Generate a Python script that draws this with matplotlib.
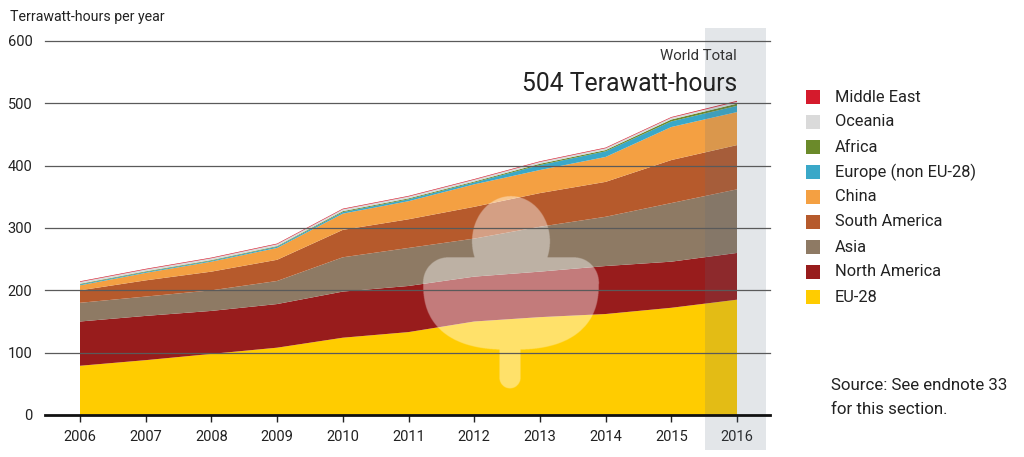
import numpy as np
import matplotlib
matplotlib.use("Agg")
from matplotlib import pyplot as plt
from matplotlib.patches import Rectangle

# Stacked area: electricity per region, 2006-2016
years = [2006, 2007, 2008, 2009, 2010, 2011, 2012, 2013, 2014, 2015, 2016]

eu28 = [79, 88, 98, 108, 124, 133, 150, 157, 162, 172, 185]
northAmerica = [71, 71, 69, 70, 74, 74, 72, 73, 77, 74, 75]
asia = [30, 31, 33, 37, 55, 61, 61, 72, 79, 94, 102]
southAmerica = [20, 26, 30, 34, 44, 46, 51, 54, 56, 69, 71]
china = [8, 12, 16, 19, 26, 29, 36, 37, 40, 53, 53]
europeNonEu = [1.5, 1.5, 1.5, 2, 2.5, 3, 3, 8, 9, 9, 10]
africa = [1, 1, 1, 1, 1.5, 1.5, 1.5, 2, 2, 3, 3.5]
oceania = [3, 3, 3, 3, 3, 3, 3, 3, 3, 3, 3]
middleEast = [1, 1, 1, 1, 1, 1, 1, 1, 1, 1, 1.5]

seriesNames = ["EU-28", "North America", "Asia", "South America", "China",
               "Europe (non EU-28)", "Africa", "Oceania", "Middle East"]
seriesColors = ["#ffcc00", "#981c1c", "#8e7a64", "#b65a2c", "#f4a042",
                "#3aa8c8", "#6b8a2a", "#dadada", "#d51a2c"]

yTicks = [0, 100, 200, 300, 400, 500, 600]
totalLabel = "504 Terawatt-hours"

FONT = "Roboto"
plt.rcParams["font.family"] = [FONT, "DejaVu Sans"]

W, H = 1024, 457
fig = plt.figure(figsize=(W / 100, H / 100), dpi=100)

# axes placed in pixel terms: left 45, right 770, top 41 (=600), bottom 415 (=0)
axL, axR, axT, axB = 45, 770, 41, 415
ax = fig.add_axes([axL / W, (H - axB) / H, (axR - axL) / W, (axB - axT) / H])

xLeft = 2006 - 35 / 65.7
xRight = 2006 + 690 / 65.7


def px_to_data(px, py):
    xd = xLeft + (px - axL) / (axR - axL) * (xRight - xLeft)
    yd = (axB - py) / (axB - axT) * 600
    return xd, yd


stack = [eu28, northAmerica, asia, southAmerica, china, europeNonEu, africa, oceania, middleEast]
ax.stackplot(years, *stack, colors=seriesColors, linewidth=0, zorder=1)

# gridlines drawn over the areas
for t in yTicks[1:]:
    ax.axhline(t, color="#5a5a5a", linewidth=0.9, zorder=3, clip_on=False)

ax.set_xlim(xLeft, xRight)
ax.set_ylim(0, 600)

for s in ["top", "right", "left"]:
    ax.spines[s].set_visible(False)
ax.spines["bottom"].set_linewidth(2)
ax.spines["bottom"].set_color("#111111")
ax.spines["bottom"].set_zorder(4)

ax.set_xticks(years)
ax.set_xticklabels([str(y) for y in years])
ax.set_yticks(yTicks)
ax.set_yticklabels([str(t) for t in yTicks])
ax.tick_params(axis="y", length=0, pad=9, labelsize=10.5, labelcolor="#222222")
ax.tick_params(axis="x", length=5, width=1, color="#222222", direction="out",
               pad=6, labelsize=10.5, labelcolor="#222222")

# watermark leaf, built as a mask in pixel space (row 0 = top)
gx = np.linspace(418, 606, 188 * 4)
gy = np.linspace(192, 396, 204 * 4)
PX, PY = np.meshgrid(gx, gy)
cx = 511
# round bottom (super-ellipse) below the shoulders
bottom = ((np.abs(PX - cx) / 88) ** 2.5 + (np.abs(PY - 282) / 68) ** 2.5 <= 1) & (PY >= 282)
shoulder = (PY >= 258) & (PY <= 283) & (np.abs(PX - cx) <= 63)
corners = ((PX - 448) ** 2 + (PY - 283) ** 2 <= 25 ** 2) | ((PX - 574) ** 2 + (PY - 283) ** 2 <= 25 ** 2)
topLobe = ((PX - cx) / 39) ** 2 + ((PY - 242) / 45) ** 2 <= 1
stem = ((np.abs(PX - 510) <= 10.5) & (PY >= 320) & (PY <= 378)) | ((PX - 510) ** 2 + (PY - 378) ** 2 <= 10.5 ** 2)
mask = bottom | shoulder | corners | topLobe | stem

rgba = np.zeros(mask.shape + (4,))
rgba[..., :3] = 1.0
rgba[..., 3] = np.where(mask, 0.42, 0.0)
x0, y0 = px_to_data(gx[0], gy[-1])
x1, y1 = px_to_data(gx[-1], gy[0])
ax.imshow(rgba, extent=[x0, x1, y0, y1], origin="upper", aspect="auto",
          interpolation="bilinear", zorder=2.1)
ax.set_xlim(xLeft, xRight)
ax.set_ylim(0, 600)

# highlight band for 2016
band = Rectangle((705 / W, (H - 450) / H), 61 / W, 422 / H, transform=fig.transFigure,
                 facecolor="#5a6e80", alpha=0.17, edgecolor="none", zorder=2.2, clip_on=False)
ax.add_artist(band)

# texts
fig.text(10 / W, 1 - 17 / H, "Terrawatt-hours per year", fontsize=10.2, color="#222222",
         ha="left", va="center")
fig.text(737 / W, 1 - 56 / H, "World Total", fontsize=10.8, color="#333333",
         ha="right", va="center", zorder=5)
fig.text(737 / W, 1 - 84 / H, totalLabel, fontsize=17.8, color="#222222",
         ha="right", va="center", zorder=5)

# legend, top entry first
legendNames = seriesNames[::-1]
legendColors = seriesColors[::-1]
for i in range(len(legendNames)):
    yc = 97 + i * 25
    fig.add_artist(Rectangle((806 / W, 1 - (yc + 7) / H), 14 / W, 14 / H,
                             transform=fig.transFigure, facecolor=legendColors[i],
                             edgecolor="none"))
    fig.text(835 / W, 1 - yc / H, legendNames[i], fontsize=11.8, color="#222222",
             ha="left", va="center")

fig.text(831 / W, 1 - 386 / H, "Source: See endnote 33", fontsize=12.2, color="#222222",
         ha="left", va="center")
fig.text(831 / W, 1 - 409 / H, "for this section.", fontsize=12.2, color="#222222",
         ha="left", va="center")

fig.savefig("out.png", dpi=100)
